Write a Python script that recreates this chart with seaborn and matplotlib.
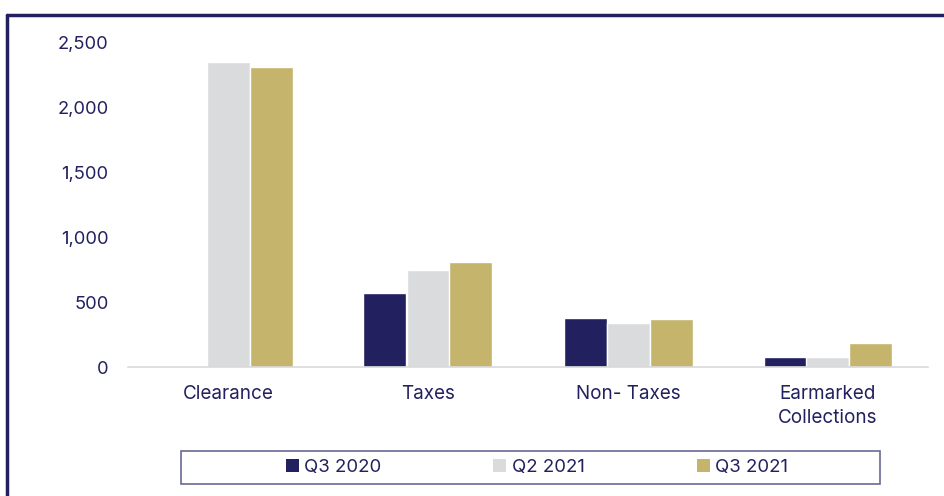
import matplotlib
matplotlib.use("Agg")
import matplotlib.pyplot as plt
import seaborn as sns
import pandas as pd
from matplotlib.patches import Rectangle
from matplotlib.lines import Line2D
from matplotlib.ticker import FuncFormatter

categories = ["Clearance", "Taxes", "Non- Taxes", "Earmarked\nCollections"]
series = ["Q3 2020", "Q2 2021", "Q3 2021"]
q3_2020 = [0, 569, 380, 80]
q2_2021 = [2354, 746, 341, 80]
q3_2021 = [2315, 808, 367, 182]

colors = ["#22205F", "#DADBDD", "#C4B46C"]
navy = "#22205F"

rows = []
for s, vals in zip(series, [q3_2020, q2_2021, q3_2021]):
    for c, v in zip(categories, vals):
        rows.append({"Category": c, "Series": s, "Value": v})
df = pd.DataFrame(rows)

sns.set_style("white")
plt.rcParams["font.family"] = ["Inter", "DejaVu Sans"]

fig = plt.figure(figsize=(9.45, 4.96), dpi=100)
W, H = 945, 496
ax = fig.add_axes([128 / W, 1 - 367 / H, 800 / W, (367 - 43) / H])

sns.barplot(data=df, x="Category", y="Value", hue="Series", order=categories,
            hue_order=series, palette=colors, width=0.645, ax=ax,
            edgecolor="white", linewidth=1, saturation=1, legend=False)

ax.set_xlim(-0.5, 3.5)
ax.set_ylim(0, 2500)
ax.set_yticks([0, 500, 1000, 1500, 2000, 2500])
ax.yaxis.set_major_formatter(FuncFormatter(lambda v, p: f"{int(v):,}"))
ax.set_xlabel("")
ax.set_ylabel("")
for s in ["top", "right", "left"]:
    ax.spines[s].set_visible(False)
ax.spines["bottom"].set_color("#D9D9D9")
ax.spines["bottom"].set_linewidth(1.2)
ax.tick_params(axis="y", length=0, pad=14, labelsize=13.2, labelcolor=navy)
ax.tick_params(axis="x", length=0, pad=13, labelsize=13.6, labelcolor=navy)
for t in ax.get_xticklabels():
    t.set_linespacing(1.4)

# figure frame (top and left)
fig.add_artist(Line2D([7 / W, 1.0], [1 - 15 / H, 1 - 15 / H], color=navy, lw=2.5,
                      transform=fig.transFigure))
fig.add_artist(Line2D([7 / W, 7 / W], [0, 1 - 15 / H], color=navy, lw=2.5,
                      transform=fig.transFigure))

# legend box
fig.add_artist(Rectangle((181 / W, 1 - 484 / H), (880 - 181) / W, (484 - 451) / H,
                         transform=fig.transFigure, fill=False, edgecolor="#6A6A98", lw=1.2))
handles = [Rectangle((0, 0), 1, 1, facecolor=c, edgecolor="none") for c in colors]
leg = fig.legend(handles, series, loc="center", bbox_to_anchor=(537 / W, 1 - 467.5 / H),
                 ncol=3, frameon=False, handlelength=0.7, handleheight=0.7,
                 handletextpad=0.3, columnspacing=6.0, fontsize=13.4)
for t in leg.get_texts():
    t.set_color(navy)

fig.savefig("out.png", dpi=100)
